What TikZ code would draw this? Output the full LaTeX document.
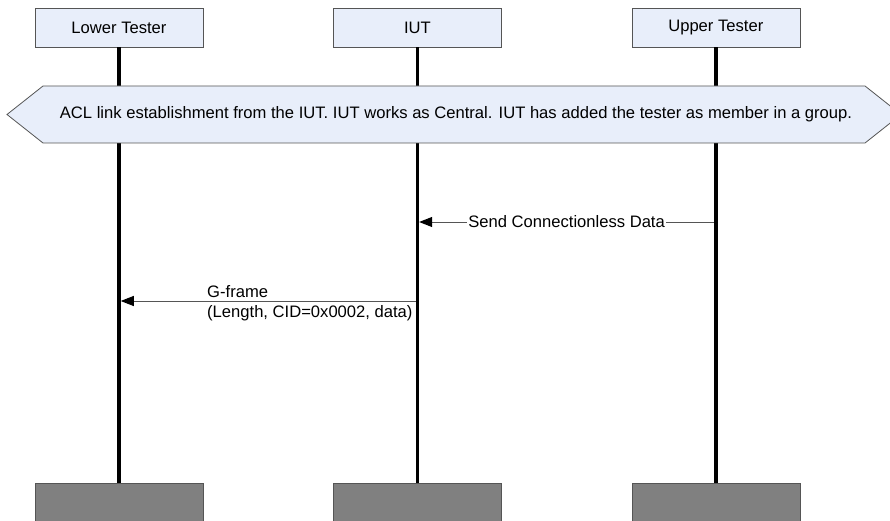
\documentclass[tikz,border=0pt]{standalone}
\usepackage{fontspec}
\setmainfont{Liberation Sans}
\usetikzlibrary{arrows.meta, positioning, calc}
\definecolor{hdrblue}{RGB}{232,238,250}
\definecolor{edgegray}{RGB}{85,85,85}
\definecolor{endgray}{RGB}{128,128,128}

\begin{document}
\begin{tikzpicture}[
  x=1pt, y=-1pt,
  every node/.style={font=\fontsize{16.6}{19}\selectfont},
  head/.style={draw=edgegray,fill=hdrblue,minimum width=168pt,
    minimum height=39pt,inner sep=0pt},
  foot/.style={draw=edgegray,fill=endgray,minimum width=168pt,
    minimum height=40pt,inner sep=0pt},
  life/.style={line width=3.5pt,draw=black},
  banner/.style={draw=edgegray,fill=hdrblue,line width=0.8pt},
  msg/.style={-{Triangle[length=13pt,width=10pt,black]},draw=edgegray,line width=1pt}
]
\clip (0,0) rectangle (890,521);
\node[head] (lt) at (119,27.5) {Lower Tester};
\node[head,right=130pt of lt] (iut) {IUT};
\node[head,right=130pt of iut] (ut) {Upper Tester};
\node[foot,below=436pt of lt] (ltend) {};
\node[foot,below=436pt of iut] (iutend) {};
\node[foot,below=436pt of ut] (utend) {};
\draw[life] (lt) -- (ltend);
\draw[life] (iut) -- (iutend);
\draw[life] (ut) -- (utend);
% preamble condition
\draw[banner] (7,114.5) -- (43,86) -- (865,86) -- (901,114.5) -- (865,143) -- (43,143) -- cycle;
\node (acl) at (456,114.5) {ACL link establishment from the IUT. IUT works as Central. IUT has added the tester as member in a group.};
% messages
\coordinate (sendfrom) at ($(ut.south |- 0,222)+(-1.75,0)$);
\coordinate (sendto) at ($(iut.south |- 0,222)+(1.75,0)$);
\draw[msg] (sendfrom) -- node[fill=white,inner sep=1pt] (send) {Send Connectionless Data} (sendto);
\coordinate (gfrom) at ($(iut.south |- 0,301)+(-1.75,0)$);
\coordinate (gto) at ($(lt.south |- 0,301)+(1.75,0)$);
\draw[msg] (gfrom) -- (gto);
\node[anchor=south west,inner sep=1pt] (gframe) at (206,299) {G-frame};
\node[anchor=north west,inner sep=1pt] (gargs) at (206,304) {(Length, CID=0x0002, data)};
\end{tikzpicture}
\end{document}
